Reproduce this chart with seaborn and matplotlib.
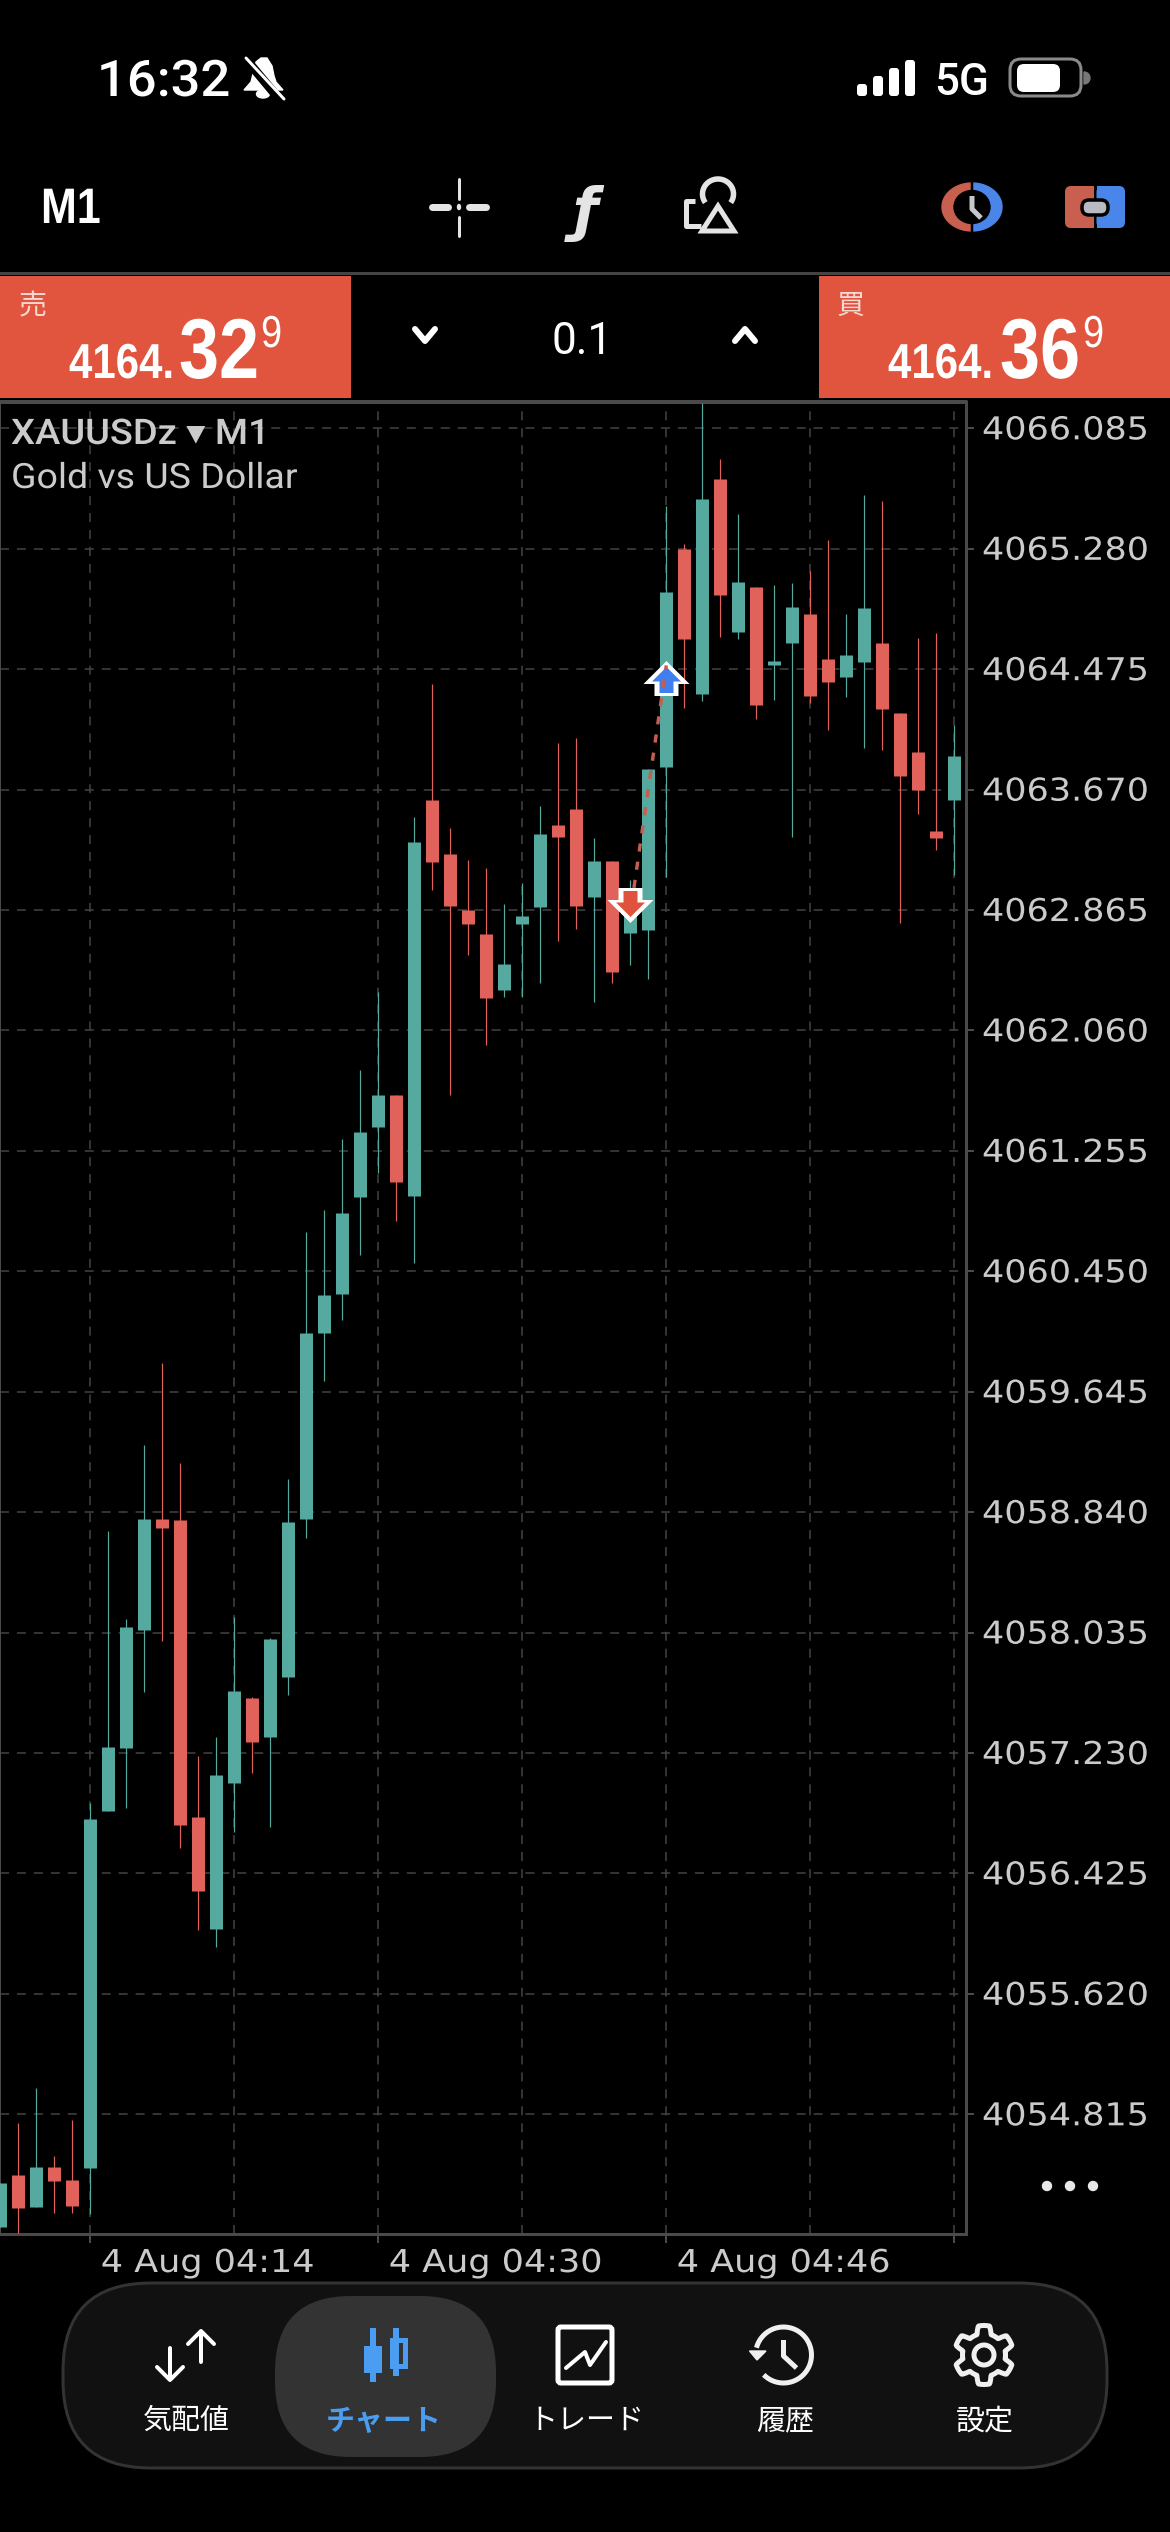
import numpy as np
import pandas as pd
import matplotlib
matplotlib.use("Agg")
import matplotlib.pyplot as plt
import seaborn as sns
from matplotlib.path import Path
from matplotlib.patches import FancyBboxPatch, Rectangle, Ellipse, Wedge, Circle
from matplotlib.patheffects import AbstractPathEffect
from matplotlib.transforms import Affine2D, ScaledTranslation

# ------------------ Chart data ------------------
opens = [4054.060, 4054.412, 4054.194, 4054.461, 4054.376, 4054.453, 4056.843, 4057.264, 4058.050,
         4058.796, 4058.788, 4056.802, 4056.053, 4057.029, 4057.596, 4057.337, 4057.738, 4058.796,
         4060.039, 4060.296, 4060.948, 4061.413, 4061.627, 4060.956, 4063.600, 4063.239, 4062.863,
         4062.706, 4062.333, 4062.775, 4062.882, 4063.435, 4063.538, 4062.955, 4063.193, 4062.709,
         4062.731, 4063.823, 4065.279, 4064.309, 4065.747, 4064.724, 4065.023, 4064.501, 4064.650,
         4064.844, 4064.542, 4064.422, 4064.522, 4064.650, 4064.182, 4063.921, 4063.394, 4063.601]
closes = [4054.356, 4054.190, 4054.461, 4054.368, 4054.202, 4056.786, 4057.268, 4058.070, 4058.796,
          4058.735, 4056.746, 4056.308, 4057.082, 4057.645, 4057.301, 4057.989, 4058.775, 4060.039,
          4060.292, 4060.841, 4061.382, 4061.627, 4061.044, 4063.320, 4063.189, 4062.890, 4062.775,
          4062.280, 4062.502, 4062.825, 4063.373, 4063.350, 4062.894, 4063.193, 4062.449, 4062.949,
          4063.806, 4064.990, 4064.675, 4065.611, 4064.969, 4065.056, 4064.235, 4064.529, 4064.890,
          4064.294, 4064.389, 4064.570, 4064.882, 4064.207, 4063.760, 4063.667, 4063.345, 4063.895]
highs = [4054.356, 4054.757, 4054.992, 4054.538, 4054.777, 4056.896, 4058.715, 4058.123, 4059.290,
         4059.837, 4059.168, 4057.208, 4057.337, 4058.139, 4057.605, 4057.997, 4059.063, 4060.710,
         4060.860, 4061.332, 4061.796, 4062.314, 4061.627, 4063.488, 4064.375, 4063.412, 4063.201,
         4063.147, 4062.905, 4063.043, 4063.561, 4063.980, 4064.014, 4063.346, 4063.193, 4063.066,
         4063.811, 4065.563, 4065.315, 4066.254, 4065.883, 4065.512, 4065.023, 4065.039, 4065.051,
         4065.131, 4065.338, 4064.844, 4065.640, 4065.596, 4064.182, 4064.683, 4064.719, 4064.100]
lows = [4054.060, 4054.019, 4054.194, 4054.153, 4054.153, 4054.149, 4056.843, 4056.863, 4057.641,
        4057.977, 4056.596, 4056.045, 4055.932, 4056.705, 4057.094, 4056.734, 4057.617, 4058.670,
        4059.715, 4060.124, 4060.557, 4061.106, 4060.787, 4060.507, 4063.001, 4061.631, 4062.567,
        4061.961, 4062.284, 4062.284, 4062.379, 4062.660, 4062.740, 4062.253, 4062.376, 4062.495,
        4062.406, 4063.084, 4064.215, 4064.263, 4064.693, 4064.675, 4064.143, 4064.269, 4063.353,
        4064.248, 4064.069, 4064.289, 4063.951, 4063.933, 4062.780, 4063.506, 4063.266, 4063.097]

price_ticks = [4066.085, 4065.280, 4064.475, 4063.670, 4062.865, 4062.060, 4061.255, 4060.450,
               4059.645, 4058.840, 4058.035, 4057.230, 4056.425, 4055.620, 4054.815]
time_ticks = [5, 21, 37, 53]
time_labels = ["4 Aug 04:14", "4 Aug 04:30", "4 Aug 04:46", ""]
minor_ticks = [13, 29, 45]

trade_x = [35.2, 37]
trade_price = [4063.013, 4064.500]
sell_arrow = (35, 4062.899)
buy_arrow = (37, 4064.419)

nav_labels = ["気配値", "チャート", "トレード", "履歴", "設定"]

# ------------------ Colours ------------------
TEAL = "#55a99e"
RED = "#e0625a"
PANEL_RED = "#e1553f"
BLUE = "#4a9df0"
GRID = "#444444"
FRAME = "#4a4a4a"
LABEL = "#cbcbcb"

W, H = 1170, 2532
sns.set_theme(style="dark", rc={"axes.facecolor": "black", "figure.facecolor": "black"})
plt.rcParams["font.family"] = ["Roboto", "Noto Sans CJK JP", "DejaVu Sans"]
SANS = "Liberation Sans"
JP = ["Noto Sans CJK JP", "DejaVu Sans"]


def px(size):
    # pixels to points at dpi 100
    return size * 0.72


class Stretch(AbstractPathEffect):
    # scales the glyphs around the text origin, the string stays a normal text
    def __init__(self, sx=1.0, sy=1.0, dy=0.0):
        super().__init__()
        self.sx = sx
        self.sy = sy
        self.dy = dy

    def draw_path(self, renderer, gc, tpath, affine, rgbFace=None):
        moved = Affine2D().scale(self.sx, self.sy) + affine + Affine2D().translate(0, self.dy)
        renderer.draw_path(gc, tpath, moved, rgbFace)


fig = plt.figure(figsize=(W / 100, H / 100), dpi=100, facecolor="black")

# ------------------ Candlestick axes ------------------
ax_left, ax_right, ax_top, ax_bottom = 0, 966, 402, 2234
ax = fig.add_axes([ax_left / W, 1 - ax_bottom / H, (ax_right - ax_left) / W, (ax_bottom - ax_top) / H])
ax.set_facecolor("black")

candles = pd.DataFrame({"idx": range(len(opens)), "open": opens, "high": highs, "low": lows, "close": closes})
candles["side"] = np.where(candles["close"] >= candles["open"], "up", "down")
palette = {"up": TEAL, "down": RED}

wicks = candles.melt(id_vars=["idx", "side"], value_vars=["high", "low"], value_name="price")
bodies = candles.melt(id_vars=["idx", "side"], value_vars=["open", "close"], value_name="price")

sns.lineplot(data=wicks, x="idx", y="price", hue="side", units="idx", estimator=None, palette=palette,
             linewidth=px(1.2), legend=False, ax=ax, solid_capstyle="butt", zorder=3)
sns.lineplot(data=bodies, x="idx", y="price", hue="side", units="idx", estimator=None, palette=palette,
             linewidth=px(13), legend=False, ax=ax, solid_capstyle="butt", zorder=4)

# Trade markers and the dotted line between them
up_outer = Path([(0, 17.5), (23, -5.5), (12, -5.5), (12, -17.5), (-12, -17.5), (-12, -5.5), (-23, -5.5), (0, 17.5)])
up_inner = Path([(0, 11.5), (14.5, -3), (7, -3), (7, -14.5), (-7, -14.5), (-7, -3), (-14.5, -3), (0, 11.5)])
down_outer = Path([(x, -y) for x, y in up_outer.vertices])
down_inner = Path([(x, -y) for x, y in up_inner.vertices])

sns.scatterplot(x=[buy_arrow[0]], y=[buy_arrow[1]], marker=up_outer, s=px(46) ** 2, color="white",
                linewidth=0, ax=ax, zorder=5)
sns.scatterplot(x=[buy_arrow[0]], y=[buy_arrow[1]], marker=up_inner, s=px(29) ** 2, color="#3f7fef",
                linewidth=0, ax=ax, zorder=6)
sns.lineplot(x=trade_x, y=trade_price, color="#c75d50", linewidth=px(3.4), linestyle=(0, (2.4, 3)),
             ax=ax, zorder=7)
sns.scatterplot(x=[sell_arrow[0]], y=[sell_arrow[1]], marker=down_outer, s=px(46) ** 2, color="white",
                linewidth=0, ax=ax, zorder=8)
sns.scatterplot(x=[sell_arrow[0]], y=[sell_arrow[1]], marker=down_inner, s=px(29) ** 2, color="#e1523c",
                linewidth=0, ax=ax, zorder=9)

ax.set_xlim(-0.0167, 53.65)
ax.set_ylim(4054.015, 4066.261)
ax.set_xlabel("")
ax.set_ylabel("")

ax.yaxis.tick_right()
ax.set_yticks(price_ticks)
ax.set_yticklabels([f"{p:.3f}" for p in price_ticks], fontsize=px(35), color=LABEL, family="DejaVu Sans")
ax.set_xticks(time_ticks)
ax.set_xticks(minor_ticks, minor=True)
ax.set_xticklabels(time_labels, fontsize=px(35), color=LABEL, family="DejaVu Sans", ha="left")

ax.tick_params(axis="y", which="major", length=px(8), width=px(2), color=FRAME, pad=px(8), right=True, left=False)
ax.tick_params(axis="x", which="major", length=px(9), width=px(2), color=FRAME, pad=px(5), bottom=True)
ax.tick_params(axis="x", which="minor", length=0, bottom=False)

shift = ScaledTranslation(10.5 / 100, 0, fig.dpi_scale_trans)
for lab in ax.get_xticklabels():
    lab.set_transform(lab.get_transform() + shift)
    lab.set_path_effects([Stretch(sy=0.9, dy=3)])
for lab in ax.get_yticklabels():
    lab.set_path_effects([Stretch(sy=0.9, dy=2.5)])

ax.set_axisbelow(True)
grid_style = dict(color=GRID, linewidth=px(1.5), linestyle=(0, (6, 5.3)))
ax.grid(True, which="major", axis="both", **grid_style)
ax.grid(True, which="minor", axis="x", **grid_style)

for name, spine in ax.spines.items():
    spine.set_visible(True)
    spine.set_color(FRAME)
    spine.set_linewidth(px(3) if name != "left" else px(2))

# ------------------ Overlay for the app chrome, in pixel coordinates ------------------
ui = fig.add_axes([0, 0, 1, 1], zorder=10)
ui.set_xlim(0, W)
ui.set_ylim(H, 0)
ui.axis("off")
ui.patch.set_alpha(0)


def label(x, y, s, size, color="white", weight="normal", family=None, ha="left", va="baseline", sy=None, **kw):
    t = ui.text(x, y, s, fontsize=px(size), color=color, fontweight=weight, family=family, ha=ha, va=va, **kw)
    if sy is not None:
        t.set_path_effects([Stretch(sy=sy)])
    return t


def stroke(xs, ys, color="white", lw=4, cap="round", **kw):
    ui.plot(xs, ys, color=color, lw=px(lw), solid_capstyle=cap, solid_joinstyle="round", **kw)


def arc(cx, cy, rx, ry, a0, a1, **kw):
    t = np.radians(np.linspace(a0, a1, 60))
    stroke(cx + rx * np.cos(t), cy - ry * np.sin(t), **kw)


# Status bar
label(97, 96, "16:32", 52.5, weight="medium", family="Roboto", sy=0.96)
ui.fill([261, 267, 272, 274, 276, 283, 244, 251, 253, 256], [58, 58, 66, 76, 82, 90, 90, 82, 74, 62], color="white")
ui.add_patch(Ellipse((263, 94), 13, 8, color="white"))
stroke([240, 280], [52, 100], color="black", lw=9, cap="butt")
stroke([246, 284], [58, 99], color="white", lw=3)
for i, top in enumerate([84, 76, 68, 60]):
    ui.add_patch(FancyBboxPatch((857 + i * 16, top), 10, 96 - top, boxstyle="round,pad=0,rounding_size=3",
                                fc="white", ec="none"))
label(934, 95, "5G", 44, weight="medium", family="Roboto")
ui.add_patch(FancyBboxPatch((1010, 59), 71, 37, boxstyle="round,pad=0,rounding_size=11", fc="none", ec="#8a8a8a", lw=px(3)))
ui.add_patch(FancyBboxPatch((1017, 64), 43, 28, boxstyle="round,pad=0,rounding_size=7", fc="white", ec="none"))
ui.add_patch(Wedge((1084, 78), 6, -90, 90, color="#777777"))

# Toolbar
label(41, 223, "M1", 43, weight="bold", family=SANS, sy=1.16)
LIGHT = "#e4e4e4"
stroke([432, 448], [207, 207], color=LIGHT, lw=7)
stroke([469, 486], [207, 207], color=LIGHT, lw=7)
stroke([459, 459], [179, 199], color=LIGHT, lw=3)
stroke([459, 459], [217, 236], color=LIGHT, lw=3)
ui.add_patch(Ellipse((459, 207), 3, 5, color=LIGHT))
label(585, 230, "ƒ", 58, color=LIGHT, family="DejaVu Sans", ha="center", style="italic", weight="bold")
arc(718, 194, 15.5, 15, -35, 215, color=LIGHT, lw=5.5, cap="butt")
ui.fill([718, 734, 702], [206, 231, 231], fc="none", ec=LIGHT, lw=px(5))
stroke([695, 685.5, 685.5, 701], [200.5, 200.5, 225.5, 225.5], color=LIGHT, lw=5, cap="butt")

# Clock icon, two crescents around a black face
t = np.radians(np.linspace(90, 270, 60))
ui.fill(972 + 30 * np.cos(t), 207 - 24 * np.sin(t), color="#c9604f")
ui.fill(972 - 30 * np.cos(t), 207 - 24 * np.sin(t), color="#4a86ea")
ui.add_patch(Ellipse((972, 207), 36, 33, color="black"))
ui.plot([972, 972], [182, 232], color="black", lw=px(2.5))
stroke([972, 972, 981], [196, 209, 218], color="#c4c8cc", lw=5, cap="butt")

ui.add_patch(FancyBboxPatch((1065, 186), 28.5, 42, boxstyle="round,pad=0,rounding_size=6", fc="#c9604f", ec="none"))
ui.add_patch(Rectangle((1084, 186), 9.5, 42, fc="#c9604f", ec="none"))
ui.add_patch(FancyBboxPatch((1096.5, 186), 28.5, 42, boxstyle="round,pad=0,rounding_size=6", fc="#4a86ea", ec="none"))
ui.add_patch(Rectangle((1096.5, 186), 9.5, 42, fc="#4a86ea", ec="none"))
ui.add_patch(FancyBboxPatch((1082, 200), 26, 15, boxstyle="round,pad=0,rounding_size=7", fc="#b8bcc2", ec="black", lw=px(3.5)))

# Sell / buy panel
ui.plot([0, W], [273, 273], color="#444444", lw=px(3))
ui.plot([0, 966], [401, 401], color=FRAME, lw=px(3))
ui.add_patch(Rectangle((0, 276), 351, 122, fc=PANEL_RED, ec="none"))
ui.add_patch(Rectangle((819, 276), 351, 122, fc=PANEL_RED, ec="none"))
label(19, 314, "売", 28, family=JP, color="#f6d8d2")
label(837, 314, "買", 28, family=JP, color="#f6d8d2")
label(69, 378, "4164.", 42, weight="bold", family=SANS, sy=1.17)
label(179, 378, "32", 72, weight="bold", family=SANS, sy=1.18)
label(261, 347, "9", 38, family=SANS, sy=1.18)
label(888, 378, "4164.", 42, weight="bold", family=SANS, sy=1.17)
label(1000, 378, "36", 72, weight="bold", family=SANS, sy=1.18)
label(1083, 347, "9", 38, family=SANS, sy=1.18)
stroke([415, 425, 435], [329, 341, 329], lw=6)
stroke([735, 745, 755], [341, 329, 341], lw=6)
label(582, 354, "0.1", 44, family="Roboto", ha="center")

# Symbol text and the menu dots
label(11, 444, "XAUUSDz ▾ M1", 38, color=LABEL, weight="medium", family=["Roboto", "DejaVu Sans"], sy=0.93)
label(11, 488, "Gold vs US Dollar", 37.5, color=LABEL, family="Roboto", sy=0.93)
for x in [1047, 1070, 1093]:
    ui.add_patch(Ellipse((x, 2186), 9, 9, color="#e8e8e8"))

# Bottom navigation
ui.add_patch(FancyBboxPatch((63, 2283), 1044, 185, boxstyle="round,pad=0,rounding_size=88", fc="#111111", ec="#333333", lw=px(3)))
ui.add_patch(FancyBboxPatch((275, 2296), 221, 161, boxstyle="round,pad=0,rounding_size=76", fc="#333333", ec="none"))
nav_x = [186, 384, 586, 785, 985]
for i, (x, name) in enumerate(zip(nav_x, nav_labels)):
    label(x, 2421, name, 29, color=BLUE if i == 1 else "white", weight="bold" if i == 1 else "normal",
          family=JP, ha="center", va="center")

# Quote arrows
stroke([170, 170], [2348, 2378], lw=4)
stroke([157, 170, 183], [2367, 2380, 2367], lw=4)
stroke([201, 201], [2332, 2362], lw=4)
stroke([188, 201, 214], [2344, 2331, 2344], lw=4)

# Chart icon
stroke([373, 373], [2328, 2382], color=BLUE, lw=6, cap="butt")
ui.add_patch(Rectangle((364, 2346), 18, 27, fc=BLUE, ec="none"))
stroke([396, 396], [2328, 2376], color=BLUE, lw=6, cap="butt")
ui.add_patch(Rectangle((392, 2340), 13, 26, fc="#333333", ec=BLUE, lw=px(5)))

# Trade icon
ui.add_patch(FancyBboxPatch((558, 2327), 54, 56, boxstyle="round,pad=0,rounding_size=3", fc="none", ec="white", lw=px(5)))
stroke([566, 585, 590, 606], [2368, 2352, 2365, 2342], lw=4)

# History icon
LINE = "#f0f0f0"
arc(783.5, 2355, 28, 28, 225, 525, color=LINE, lw=5, cap="butt")
ui.fill([749.5, 766, 757], [2351, 2351, 2360], color=LINE)
stroke([783.5, 783.5, 796.5], [2340, 2356, 2368], color=LINE, lw=5, cap="butt")

# Settings icon
t = np.linspace(0, 2 * np.pi, 241)
r = 25.5 + 4 * np.clip(2.5 * np.cos(6 * (t - np.pi / 2)), -1, 1)
ui.plot(984 + r * np.cos(t), 2355 + r * np.sin(t), color=LINE, lw=px(5))
ui.add_patch(Circle((984, 2355), 10, fc="none", ec=LINE, lw=px(5)))

fig.savefig("out.png", dpi=100, facecolor="black")
